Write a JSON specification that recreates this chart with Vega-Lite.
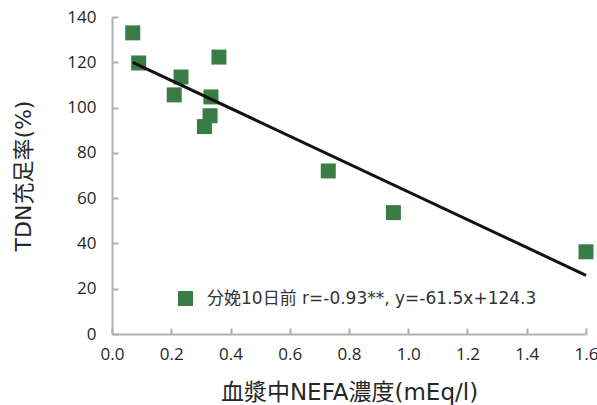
{
  "$schema": "https://vega.github.io/schema/vega-lite/v6.json",
  "autosize": "none",
  "width": 474,
  "height": 317,
  "padding": {"left": 112, "top": 17, "right": 11, "bottom": 71},
  "background": "white",
  "config": {
    "view": {"stroke": null},
    "font": "DejaVu Sans, Noto Sans CJK JP",
    "axis": {
      "grid": false,
      "domainColor": "#b0b0b0",
      "domainWidth": 2,
      "tickColor": "#b0b0b0",
      "tickWidth": 2,
      "labelColor": "#262626",
      "labelFontSize": 17,
      "titleColor": "#262626",
      "titleFontSize": 22,
      "titleFontWeight": "normal",
      "labelFont": "Open Sans, Noto Sans CJK JP",
      "titleFont": "DejaVu Sans, Noto Sans CJK JP",
      "labelFlush": false
    }
  },
  "layer": [
    {
      "data": {
        "values": [
          {"nefa": 0.07, "tdn": 133.0, "series": "分娩10日前 r=-0.93**, y=-61.5x+124.3"},
          {"nefa": 0.09, "tdn": 119.7, "series": "分娩10日前 r=-0.93**, y=-61.5x+124.3"},
          {"nefa": 0.21, "tdn": 105.6, "series": "分娩10日前 r=-0.93**, y=-61.5x+124.3"},
          {"nefa": 0.233, "tdn": 113.5, "series": "分娩10日前 r=-0.93**, y=-61.5x+124.3"},
          {"nefa": 0.361, "tdn": 122.3, "series": "分娩10日前 r=-0.93**, y=-61.5x+124.3"},
          {"nefa": 0.334, "tdn": 104.7, "series": "分娩10日前 r=-0.93**, y=-61.5x+124.3"},
          {"nefa": 0.331, "tdn": 96.4, "series": "分娩10日前 r=-0.93**, y=-61.5x+124.3"},
          {"nefa": 0.312, "tdn": 91.6, "series": "分娩10日前 r=-0.93**, y=-61.5x+124.3"},
          {"nefa": 0.73, "tdn": 72.0, "series": "分娩10日前 r=-0.93**, y=-61.5x+124.3"},
          {"nefa": 0.95, "tdn": 53.6, "series": "分娩10日前 r=-0.93**, y=-61.5x+124.3"},
          {"nefa": 1.6, "tdn": 36.3, "series": "分娩10日前 r=-0.93**, y=-61.5x+124.3"}
        ]
      },
      "mark": {"type": "square", "size": 225, "opacity": 1, "filled": true, "cornerRadius": 2},
      "encoding": {
        "x": {
          "field": "nefa", "type": "quantitative",
          "scale": {"domain": [0, 1.6], "nice": false},
          "axis": {"values": [0, 0.2, 0.4, 0.6, 0.8, 1.0, 1.2, 1.4, 1.6], "format": ".1f", "title": "血漿中NEFA濃度(mEq/l)", "titleFontSize": 23, "tickSize": -6, "labelPadding": 18, "titlePadding": 19}
        },
        "y": {
          "field": "tdn", "type": "quantitative",
          "scale": {"domain": [0, 140], "nice": false},
          "axis": {"values": [0, 20, 40, 60, 80, 100, 120, 140], "title": "TDN充足率(%)", "tickSize": -6, "labelPadding": 22, "titlePadding": 31}
        },
        "color": {
          "field": "series", "type": "nominal",
          "scale": {"range": ["#3a7d44"]},
          "legend": {
            "title": null, "orient": "none", "legendX": 65, "legendY": 273,
            "symbolType": "square", "symbolSize": 225, "symbolStrokeWidth": 0,
            "labelFontSize": 17, "labelColor": "#333333", "labelOffset": 13,
            "labelFont": "DejaVu Sans, Noto Sans CJK JP", "labelLimit": 500, "padding": 0
          }
        }
      }
    },
    {
      "data": {"values": [{"nefa": 0.07, "tdn": 120.0}, {"nefa": 1.6, "tdn": 25.9}]},
      "mark": {"type": "line", "color": "#111111", "strokeWidth": 3},
      "encoding": {
        "x": {"field": "nefa", "type": "quantitative"},
        "y": {"field": "tdn", "type": "quantitative"}
      }
    }
  ]
}
